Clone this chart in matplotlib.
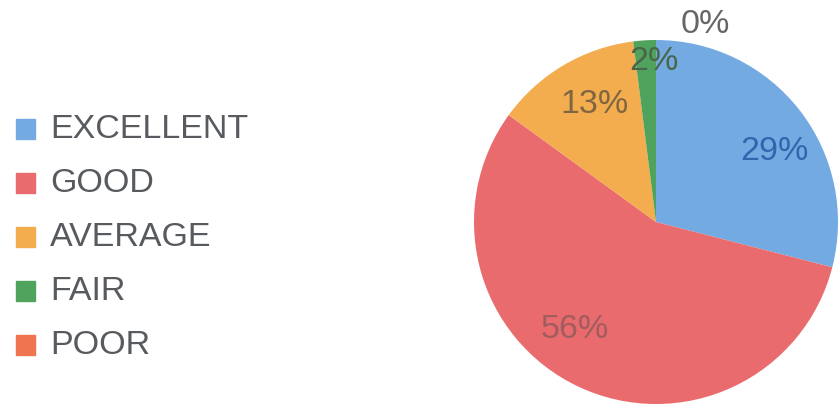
import numpy as np
import matplotlib.pyplot as plt
from matplotlib.patches import Rectangle

plt.rcParams['font.family'] = ['Liberation Sans', 'DejaVu Sans']

categories = ['EXCELLENT', 'GOOD', 'AVERAGE', 'FAIR', 'POOR']
values = [29, 56, 13, 2, 0]
pct_labels = ['29%', '56%', '13%', '2%', '0%']
colors = ['#74aae2', '#ea6b6d', '#f3ad4f', '#4fa35c', '#f0744f']
label_colors = ['#2f66ad', '#a05c5e', '#806640', '#4a664a', '#666666']
# radius / angle offset for each percent label
label_r = [0.76, 0.74, 0.73, 0.88, 1.12]
label_dang = [-7, -12, -3, -3, -14]

fig = plt.figure(figsize=(8.39, 4.07), dpi=100)
W, H = 839, 407
cx, cy, r = 656, 222, 182
ax = fig.add_axes([(cx - r) / W, (H - cy - r) / H, 2 * r / W, 2 * r / H])
wedges, _ = ax.pie(values, colors=colors, startangle=90, counterclock=False,
                   radius=1, wedgeprops=dict(linewidth=0))
ax.set_xlim(-1, 1)
ax.set_ylim(-1, 1)
ax.set_aspect('equal')
ax.axis('off')

for w, lab, c, rr, da in zip(wedges, pct_labels, label_colors, label_r, label_dang):
    ang = np.deg2rad((w.theta1 + w.theta2) / 2 + da)
    ax.text(rr * np.cos(ang), rr * np.sin(ang), lab, color=c, fontsize=24.5,
            ha='center', va='center', clip_on=False)

# legend
y0 = 129
step = 54
for i, (cat, col) in enumerate(zip(categories, colors)):
    y = y0 + i * step
    fig.patches.append(Rectangle((16 / W, (H - y - 10) / H), 19 / W, 20 / H,
                                 transform=fig.transFigure, color=col))
    fig.text(50 / W, (H - y) / H, cat, fontsize=24.5, color='#575a5e',
             va='center', ha='left')

fig.savefig('out.png', dpi=100)
